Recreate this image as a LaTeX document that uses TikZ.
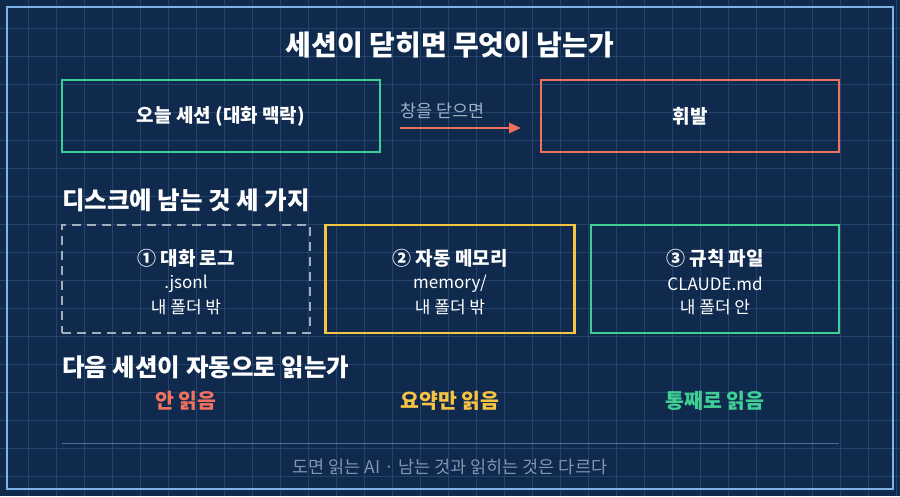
\documentclass[tikz,border=0pt]{standalone}
\usepackage{fontspec}
\setmainfont{Noto Sans CJK KR}
\usetikzlibrary{arrows.meta}
\definecolor{bg}{HTML}{0F2A4D}
\definecolor{gridc}{HTML}{23446E}
\definecolor{frame}{HTML}{7FB2E5}
\definecolor{gr}{HTML}{3FCF94}
\definecolor{rd}{HTML}{F2705E}
\definecolor{yl}{HTML}{F6C343}
\definecolor{dash}{HTML}{A3AEBD}
\definecolor{sub}{HTML}{9FB0C8}
\begin{document}
\begin{tikzpicture}[x=1pt,y=-1pt,
  box/.style={draw,line width=2.5pt,minimum width=#1,minimum height=72pt,inner sep=0pt},
  t/.style={text=white,font=\fontsize{19}{22}\selectfont\bfseries},
  s/.style={text=white,font=\fontsize{17}{20}\selectfont},
  h/.style={text=white,font=\fontsize{24.5}{28}\selectfont\bfseries,anchor=west,inner sep=0pt}]
\fill[bg] (0,0) rectangle (900,496);
\useasboundingbox (0,0) rectangle (900,496);
\foreach \i in {1,...,32} \draw[gridc,line width=0.8pt] (28*\i,0) -- (28*\i,496);
\foreach \i in {1,...,17} \draw[gridc,line width=0.8pt] (0,28*\i) -- (900,28*\i);
\draw[frame,line width=1.5pt] (7,7) rectangle (893,489);
\node[text=white,font=\fontsize{28}{32}\selectfont\bfseries] (title) at (450,45) {세션이 닫히면 무엇이 남는가};
\node[box=318pt,draw=gr] (ses) at (221,116) {};
\node[t] at (ses) {오늘 세션 (대화 맥락)};
\node[box=298pt,draw=rd] (vol) at (690,116) {};
\node[t] at (vol) {휘발};
\coordinate (a1) at (400,128);
\coordinate (a2) at (521,128);
\draw[rd,line width=2.5pt,-{Triangle[length=12pt,width=10pt]}] (a1) -- (a2);
\node[text=sub,font=\fontsize{17.5}{20}\selectfont,anchor=west,inner sep=0pt] (cl) at (400,111) {창을 닫으면};
\node[h] (h1) at (62,200) {디스크에 남는 것 세 가지};
\node[draw=dash,dashed,dash pattern=on 9pt off 6pt,line width=2pt,minimum width=248pt,minimum height=108pt] (d1) at (186,279) {};
\node[draw=yl,line width=2.5pt,minimum width=249pt,minimum height=108pt] (d2) at (450,279) {};
\node[draw=gr,line width=2.5pt,minimum width=248pt,minimum height=108pt] (d3) at (715,279) {};
\node[t] at (186,258) {① 대화 로그};
\node[s] at (186,284) {.jsonl};
\node[s] at (186,307) {내 폴더 밖};
\node[t] at (450,258) {② 자동 메모리};
\node[s] at (450,284) {memory/};
\node[s] at (450,307) {내 폴더 밖};
\node[t] at (715,258) {③ 규칙 파일};
\node[s] at (715,284) {CLAUDE.md};
\node[s] at (715,307) {내 폴더 안};
\node[h] (h2) at (62,367) {다음 세션이 자동으로 읽는가};
\node[text=rd,font=\fontsize{20.5}{24}\selectfont\bfseries] (r1) at (186,401) {안 읽음};
\node[text=yl,font=\fontsize{20.5}{24}\selectfont\bfseries] (r2) at (450,401) {요약만 읽음};
\node[text=gr,font=\fontsize{20.5}{24}\selectfont\bfseries] (r3) at (715,401) {통째로 읽음};
\coordinate (l1) at (62,443); \coordinate (l2) at (839,443);
\draw[gridc!60!frame,line width=1pt] (l1) -- (l2);
\node[text=sub!80!bg,font=\fontsize{17.5}{20}\selectfont] (ft) at (450,467) {도면 읽는 AI · 남는 것과 읽히는 것은 다르다};
\end{tikzpicture}
\end{document}
